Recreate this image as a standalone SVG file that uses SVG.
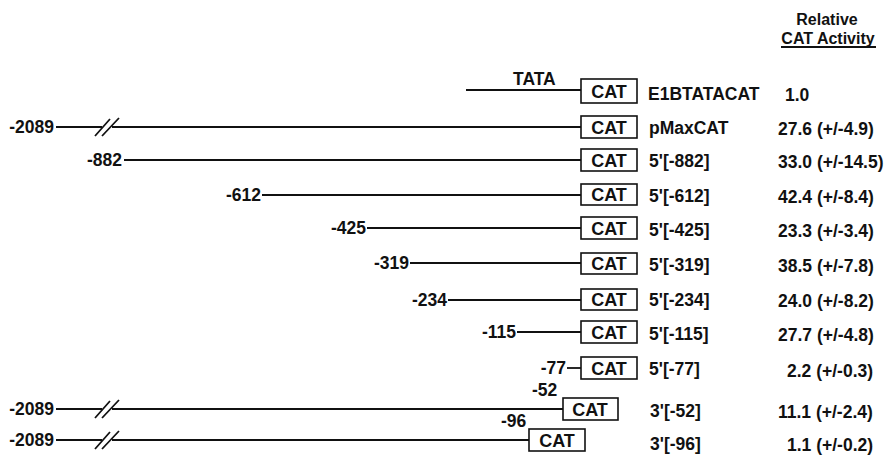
<svg xmlns="http://www.w3.org/2000/svg" width="886" height="455" viewBox="0 0 886 455">
<style>
text{font-family:"Liberation Sans",Arial,sans-serif;font-weight:bold;fill:#111}
.t{font-size:17.5px}
.l{font-size:17.5px;text-anchor:end}
.c{font-size:18px;text-anchor:middle}
.h{font-size:16px;text-anchor:middle}
.box{fill:#fff;stroke:#111;stroke-width:1.6}
.ln{stroke:#111;stroke-width:1.8;fill:none}
</style>
<defs>
<g id="brk"><path class="ln" d="M95 9L110 -8M102 9L119 -9"/></g>
</defs>
<rect width="886" height="455" fill="#fff"/>
<g id="header">
<text class="h" x="827" y="25">Relative</text>
<text class="h" x="828" y="44">CAT Activity</text>
<line class="ln" x1="781" y1="47" x2="876" y2="47" stroke-width="1.5"/>
</g>
<g id="connectors">
<line class="ln" x1="466" y1="90" x2="581" y2="90"/>
<g transform="translate(0,127)"><line class="ln" x1="56" y1="0" x2="102" y2="0"/><line class="ln" x1="112" y1="0" x2="581" y2="0"/><use href="#brk"/></g>
<line class="ln" x1="124" y1="160" x2="581" y2="160"/>
<line class="ln" x1="262" y1="195" x2="581" y2="195"/>
<line class="ln" x1="367" y1="228" x2="581" y2="228"/>
<line class="ln" x1="410" y1="263" x2="581" y2="263"/>
<line class="ln" x1="448" y1="300" x2="581" y2="300"/>
<line class="ln" x1="517" y1="332" x2="581" y2="332"/>
<line class="ln" x1="567" y1="368" x2="581" y2="368"/>
<g transform="translate(0,409)"><line class="ln" x1="56" y1="0" x2="102" y2="0"/><line class="ln" x1="112" y1="0" x2="563" y2="0"/><use href="#brk"/></g>
<g transform="translate(0,440)"><line class="ln" x1="56" y1="0" x2="102" y2="0"/><line class="ln" x1="112" y1="0" x2="529" y2="0"/><use href="#brk"/></g>
</g>
<g id="row1"><text class="t" x="513" y="85">TATA</text><rect class="box" x="581" y="79" width="56" height="24"/><text class="c" x="609" y="98">CAT</text><text class="t" x="648" y="100">E1BTATACAT</text><text class="t" x="785" y="101">1.0</text></g>
<g id="row2"><text class="l" x="54" y="133">-2089</text><rect class="box" x="581" y="116" width="56" height="22"/><text class="c" x="609" y="134">CAT</text><text class="t" x="649" y="134">pMaxCAT</text><text class="t" x="778" y="135">27.6 (+/-4.9)</text></g>
<g id="row3"><text class="l" x="122" y="166">-882</text><rect class="box" x="581" y="149" width="56" height="22"/><text class="c" x="609" y="167">CAT</text><text class="t" x="649" y="167">5'[-882]</text><text class="t" x="778" y="168">33.0 (+/-14.5)</text></g>
<g id="row4"><text class="l" x="261" y="201">-612</text><rect class="box" x="581" y="184" width="56" height="21"/><text class="c" x="609" y="201">CAT</text><text class="t" x="649" y="202">5'[-612]</text><text class="t" x="778" y="203">42.4 (+/-8.4)</text></g>
<g id="row5"><text class="l" x="366" y="234">-425</text><rect class="box" x="581" y="217" width="56" height="22"/><text class="c" x="609" y="235">CAT</text><text class="t" x="649" y="236">5'[-425]</text><text class="t" x="778" y="237">23.3 (+/-3.4)</text></g>
<g id="row6"><text class="l" x="409" y="269">-319</text><rect class="box" x="581" y="253" width="56" height="21"/><text class="c" x="609" y="270">CAT</text><text class="t" x="649" y="271">5'[-319]</text><text class="t" x="778" y="272">38.5 (+/-7.8)</text></g>
<g id="row7"><text class="l" x="447" y="306">-234</text><rect class="box" x="581" y="289" width="56" height="21"/><text class="c" x="609" y="306">CAT</text><text class="t" x="649" y="306">5'[-234]</text><text class="t" x="778" y="307">24.0 (+/-8.2)</text></g>
<g id="row8"><text class="l" x="516" y="338">-115</text><rect class="box" x="581" y="321" width="56" height="22"/><text class="c" x="609" y="339">CAT</text><text class="t" x="649" y="340">5'[-115]</text><text class="t" x="778" y="341">27.7 (+/-4.8)</text></g>
<g id="row9"><text class="l" x="566" y="374">-77</text><rect class="box" x="581" y="357" width="56" height="22"/><text class="c" x="609" y="375">CAT</text><text class="t" x="649" y="375">5'[-77]</text><text class="t" x="787" y="377">2.2 (+/-0.3)</text></g>
<g id="row10"><text class="l" x="54" y="415">-2089</text><text class="t" x="532" y="396">-52</text><rect class="box" x="563" y="398" width="55" height="22"/><text class="c" x="590" y="416">CAT</text><text class="t" x="650" y="417">3'[-52]</text><text class="t" x="778" y="418">11.1 (+/-2.4)</text></g>
<g id="row11"><text class="l" x="54" y="446">-2089</text><text class="t" x="501" y="427">-96</text><rect class="box" x="529" y="429" width="56" height="22"/><text class="c" x="557" y="447">CAT</text><text class="t" x="650" y="450">3'[-96]</text><text class="t" x="787" y="451">1.1 (+/-0.2)</text></g>
</svg>
